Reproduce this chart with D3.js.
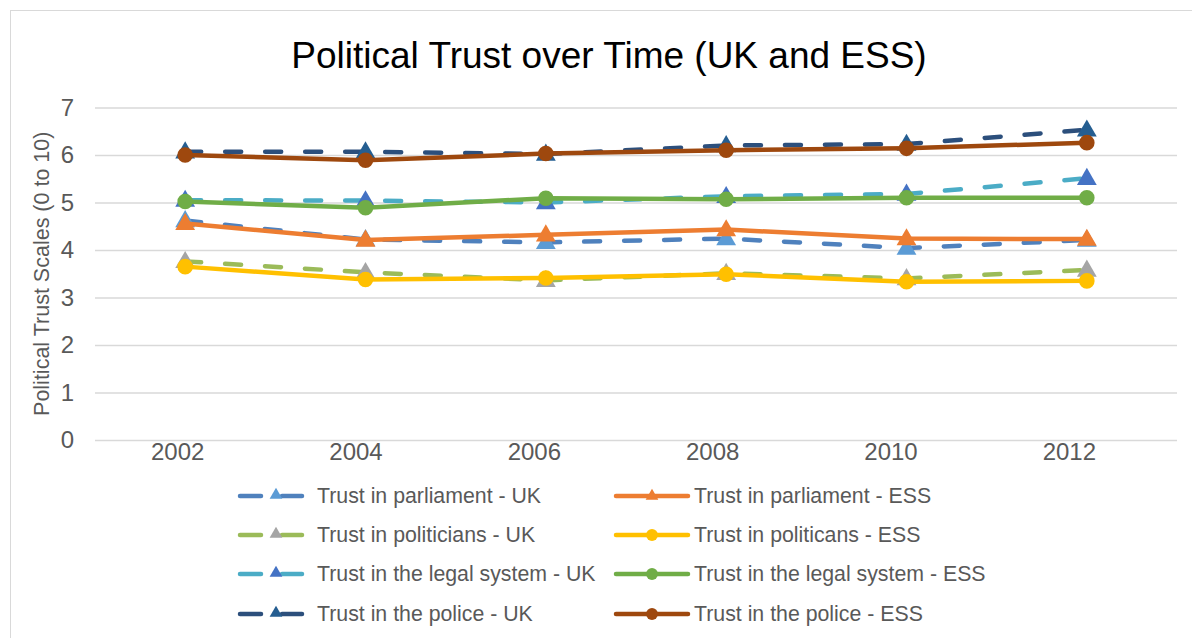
<!DOCTYPE html>
<html>
<head>
<meta charset="utf-8">
<script src="https://cdn.jsdelivr.net/npm/d3@7"></script>
<style>
  html, body { margin: 0; padding: 0; background: #fff; }
  svg { display: block; font-family: "Liberation Sans", Arial, sans-serif; }
</style>
</head>
<body>
<div id="chart"></div>
<script>
// ---- data ---------------------------------------------------------------
const years = ['2002', '2004', '2006', '2008', '2010', '2012'];
const yTicks = [0, 1, 2, 3, 4, 5, 6, 7];

const parliamentUK  = [4.62, 4.22, 4.16, 4.24, 4.04, 4.21];
const parliamentESS = [4.56, 4.21, 4.32, 4.43, 4.24, 4.23];
const politiciansUK  = [3.76, 3.53, 3.36, 3.51, 3.40, 3.58];
const politiciansESS = [3.65, 3.38, 3.41, 3.49, 3.33, 3.35];
const legalUK  = [5.05, 5.04, 5.00, 5.13, 5.18, 5.51];
const legalESS = [5.02, 4.89, 5.09, 5.07, 5.10, 5.10];
const policeUK  = [6.07, 6.07, 6.02, 6.20, 6.23, 6.53];
const policeESS = [6.00, 5.89, 6.03, 6.10, 6.14, 6.26];

// legend/draw order matches Excel (row by row, UK then ESS)
const series = [
  { name: 'Trust in parliament - UK',        values: parliamentUK,  line: '#4f81bd', marker: '#5b9bd5', shape: 'tri', dashed: true },
  { name: 'Trust in parliament - ESS',       values: parliamentESS, line: '#ed7d31', marker: '#ed7d31', shape: 'tri', dashed: false },
  { name: 'Trust in politicians - UK',       values: politiciansUK, line: '#9bbb59', marker: '#a5a5a5', shape: 'tri', dashed: true },
  { name: 'Trust in politicans - ESS',       values: politiciansESS, line: '#ffc000', marker: '#ffc000', shape: 'circle', dashed: false },
  { name: 'Trust in the legal system - UK',  values: legalUK,  line: '#4bacc6', marker: '#4472c4', shape: 'tri', dashed: true },
  { name: 'Trust in the legal system - ESS', values: legalESS, line: '#70ad47', marker: '#70ad47', shape: 'circle', dashed: false },
  { name: 'Trust in the police - UK',        values: policeUK,  line: '#2c4f7c', marker: '#255e91', shape: 'tri', dashed: true },
  { name: 'Trust in the police - ESS',       values: policeESS, line: '#9e480e', marker: '#9e480e', shape: 'circle', dashed: false }
];

// ---- layout -------------------------------------------------------------
const W = 1192, H = 638;
const plot = { left: 95, right: 1177, top: 107.5, bottom: 440 };

const svg = d3.select('#chart').append('svg')
  .attr('width', W).attr('height', H);

// chart border (right/bottom edges run off the picture, as in the original)
svg.append('rect')
  .attr('x', 10.5).attr('y', 10.5)
  .attr('width', 1300).attr('height', 700)
  .attr('fill', '#fff').attr('stroke', '#d9d9d9').attr('stroke-width', 1);

svg.append('text')
  .attr('x', 609).attr('y', 68)
  .attr('text-anchor', 'middle')
  .attr('font-size', '37px')
  .attr('fill', '#000')
  .text('Political Trust over Time (UK and ESS)');

const x = d3.scalePoint().domain(years).range([plot.left, plot.right]).padding(0.5);
// category labels sit a little left of the data points in the original
const xLabel = d3.scalePoint().domain(years).range([88, 1158]).padding(0.5);
const y = d3.scaleLinear().domain([0, 7]).range([plot.bottom, plot.top]);

// grid
svg.append('g')
  .attr('transform', `translate(${plot.left},0)`)
  .call(d3.axisLeft(y).tickValues(yTicks).tickSize(-(plot.right - plot.left)).tickFormat(''))
  .call(g => g.select('.domain').remove())
  .call(g => g.selectAll('line').attr('stroke', '#d9d9d9').attr('stroke-width', 1.5));

// y labels
svg.append('g')
  .attr('transform', `translate(${plot.left},0)`)
  .call(d3.axisLeft(y).tickValues(yTicks).tickFormat(d3.format('d')).tickSize(0).tickPadding(21))
  .call(g => g.select('.domain').remove())
  .call(g => g.selectAll('text')
    .attr('font-size', '24px').attr('fill', '#595959')
    .attr('font-family', '"Liberation Sans", Arial, sans-serif'));

// x labels
svg.append('g')
  .attr('transform', `translate(0,${plot.bottom})`)
  .call(d3.axisBottom(xLabel).tickSize(0).tickPadding(3))
  .call(g => g.select('.domain').remove())
  .call(g => g.selectAll('text')
    .attr('font-size', '24px').attr('fill', '#595959')
    .attr('font-family', '"Liberation Sans", Arial, sans-serif'));

// y axis title
svg.append('text')
  .attr('transform', `translate(49,${(plot.top + plot.bottom) / 2}) rotate(-90)`)
  .attr('text-anchor', 'middle')
  .attr('font-size', '21.5px')
  .attr('fill', '#595959')
  .text('Political Trust Scales (0 to 10)');

// ---- series -------------------------------------------------------------
const line = d3.line().x((d, i) => x(years[i])).y(d => y(d));

function drawMarker(g, s, cx, cy, small) {
  const gen = s.shape === 'tri'
    ? d3.symbol().type(d3.symbolTriangle).size(small ? 70 : 170)
    : d3.symbol().type(d3.symbolCircle).size(small ? 110 : 190);
  g.append('path')
    .attr('d', gen())
    .attr('transform', `translate(${cx},${cy + (s.shape === 'tri' && !small ? 1 : 0)})`)
    .attr('fill', s.marker);
}

const lines = svg.append('g');
series.forEach(s => {
  const g = lines.append('g');
  g.append('path')
    .datum(s.values)
    .attr('d', line)
    .attr('fill', 'none')
    .attr('stroke', s.line)
    .attr('stroke-width', 4.5)
    .attr('stroke-linecap', 'round')
    .attr('stroke-linejoin', 'round')
    .attr('stroke-dasharray', s.dashed ? '16 24' : null);
  s.values.forEach((v, i) => drawMarker(g, s, x(years[i]), y(v), false));
});

// ---- legend -------------------------------------------------------------
const legend = svg.append('g');
const rowY = [496, 535, 574, 614];
const colX = [240, 616];

series.forEach((s, i) => {
  const col = i % 2, row = Math.floor(i / 2);
  const lx = colX[col], ly = rowY[row];
  const g = legend.append('g');
  if (s.dashed) {
    [[lx, lx + 21], [lx + 42, lx + 62]].forEach(([a, b]) => {
      g.append('line')
        .attr('x1', a).attr('x2', b).attr('y1', ly).attr('y2', ly)
        .attr('stroke', s.line).attr('stroke-width', 4.5).attr('stroke-linecap', 'round');
    });
    drawMarker(g, s, lx + 36, ly - 1, true);
  } else {
    g.append('line')
      .attr('x1', lx).attr('x2', lx + 72).attr('y1', ly).attr('y2', ly)
      .attr('stroke', s.line).attr('stroke-width', 4.5).attr('stroke-linecap', 'round');
    drawMarker(g, s, lx + 36, ly, true);
  }
  g.append('text')
    .attr('x', col === 0 ? lx + 77 : lx + 78).attr('y', ly + 7)
    .attr('font-size', '21.3px').attr('fill', '#595959')
    .text(s.name);
});
</script>
</body>
</html>
